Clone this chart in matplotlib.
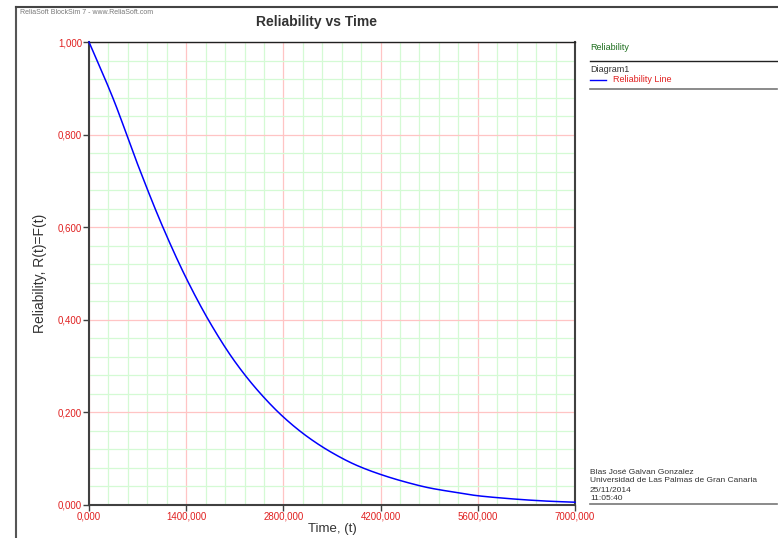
import matplotlib
matplotlib.use("Agg")
import matplotlib.pyplot as plt
from matplotlib.ticker import MultipleLocator, FuncFormatter
from matplotlib.lines import Line2D
import numpy as np

plt.rcParams['font.family'] = ['Liberation Sans', 'DejaVu Sans']

# Data
time = [0, 350, 700, 1050, 1400, 1750, 2100, 2450, 2800, 3150, 3500,
        3850, 4200, 4550, 4900, 5250, 5600, 5950, 6300, 6650, 7000]
reliability = [1.000, 0.877, 0.736, 0.605, 0.490, 0.392, 0.310, 0.244, 0.190,
               0.147, 0.113, 0.086, 0.066, 0.050, 0.037, 0.028, 0.020, 0.015,
               0.011, 0.008, 0.006]
x_ticks = [0, 1400, 2800, 4200, 5600, 7000]
y_ticks = [0.0, 0.2, 0.4, 0.6, 0.8, 1.0]

title = "Reliability vs Time"
footer = ["Blas José Galvan Gonzalez",
          "Universidad de Las Palmas de Gran Canaria",
          "25/11/2014",
          "11:05:40"]

W, H = 778, 538
fig = plt.figure(figsize=(W / 100, H / 100), dpi=100)
fig.patch.set_facecolor('white')

def fx(px):
    return px / W

def fy(py):
    return 1 - py / H

ax = fig.add_axes([fx(89), fy(505), fx(575) - fx(89), fy(42) - fy(505)])

ts = np.array(time, dtype=float)
rs = np.array(reliability, dtype=float)
fine_t = np.linspace(0, 7000, 701)

def pchip(x, y, xn):
    h = np.diff(x)
    d = np.diff(y) / h
    m = np.zeros_like(y)
    for k in range(1, len(y) - 1):
        if d[k - 1] * d[k] > 0:
            w1 = 2 * h[k] + h[k - 1]
            w2 = h[k] + 2 * h[k - 1]
            m[k] = (w1 + w2) / (w1 / d[k - 1] + w2 / d[k])
    m[0] = d[0]
    m[-1] = d[-1]
    idx = np.clip(np.searchsorted(x, xn) - 1, 0, len(x) - 2)
    t = (xn - x[idx]) / h[idx]
    h00 = 2 * t**3 - 3 * t**2 + 1
    h10 = t**3 - 2 * t**2 + t
    h01 = -2 * t**3 + 3 * t**2
    h11 = t**3 - t**2
    return h00 * y[idx] + h10 * h[idx] * m[idx] + h01 * y[idx + 1] + h11 * h[idx] * m[idx + 1]

fine_r = pchip(ts, rs, fine_t)
ax.plot(fine_t, fine_r, color='#0000ff', lw=1.1, zorder=3, clip_on=False)

ax.set_xlim(0, 7000)
ax.set_ylim(0, 1.0)
ax.set_xticks(x_ticks)
ax.set_yticks(y_ticks)
ax.xaxis.set_minor_locator(MultipleLocator(280))
ax.yaxis.set_minor_locator(MultipleLocator(0.04))
ax.grid(which='major', color='#ffc4c4', lw=0.9, zorder=1)
ax.grid(which='minor', color='#d4fad4', lw=0.9, zorder=0)
ax.set_axisbelow(True)

ax.xaxis.set_major_formatter(FuncFormatter(lambda v, p: f"{v:.3f}".replace('.', ',')))
ax.yaxis.set_major_formatter(FuncFormatter(lambda v, p: f"{v:.3f}".replace('.', ',')))
ax.tick_params(axis='both', which='major', labelsize=7, labelcolor='#e02020',
               color='#404040', length=4, width=1, pad=1)
ax.tick_params(axis='both', which='minor', length=0)

for s in ['left', 'bottom', 'right']:
    ax.spines[s].set_color('#404040')
    ax.spines[s].set_linewidth(1.5)
ax.spines['top'].set_color('#202020')
ax.spines['top'].set_linewidth(1.0)

ax.set_xlabel("Time, (t)", fontsize=9.5, color='#333333', labelpad=1)
ax.set_ylabel("Reliability, R(t)=F(t)", fontsize=10, color='#333333', labelpad=8)

# outer frame lines
fig.add_artist(Line2D([fx(16), fx(16)], [fy(7), 0], color='#555555', lw=1.5))
fig.add_artist(Line2D([fx(16), 1], [fy(7), fy(7)], color='#444444', lw=1.5))

fig.text(fx(20), fy(12), "ReliaSoft BlockSim 7 - www.ReliaSoft.com", fontsize=5,
         color='#777777', va='center', ha='left')
fig.text(fx(316), fy(22), title, fontsize=10, fontweight='bold',
         color='#333333', va='center', ha='center')

# legend area
fig.text(fx(590), fy(47), "Reliability", fontsize=6.5, color='#207020', va='center')
fig.add_artist(Line2D([fx(590), fx(777)], [fy(61), fy(61)], color='#222222', lw=1.0))
fig.text(fx(590), fy(70), "Diagram1", fontsize=6.5, color='#333333', va='center')
fig.add_artist(Line2D([fx(590), fx(606)], [fy(80), fy(80)], color='#0000ff', lw=1.0))
fig.text(fx(613), fy(80), "Reliability Line", fontsize=6.5, color='#e02020', va='center')
fig.add_artist(Line2D([fx(590), fx(777)], [fy(89), fy(89)], color='#777777', lw=1.2))

# footer
for i, line in enumerate(footer):
    fig.text(fx(590), fy(472 + 9 * i), line, fontsize=6, color='#333333', va='center')
fig.add_artist(Line2D([fx(590), fx(777)], [fy(504), fy(504)], color='#777777', lw=1.2))

fig.savefig("out.png", dpi=100, facecolor='white')
